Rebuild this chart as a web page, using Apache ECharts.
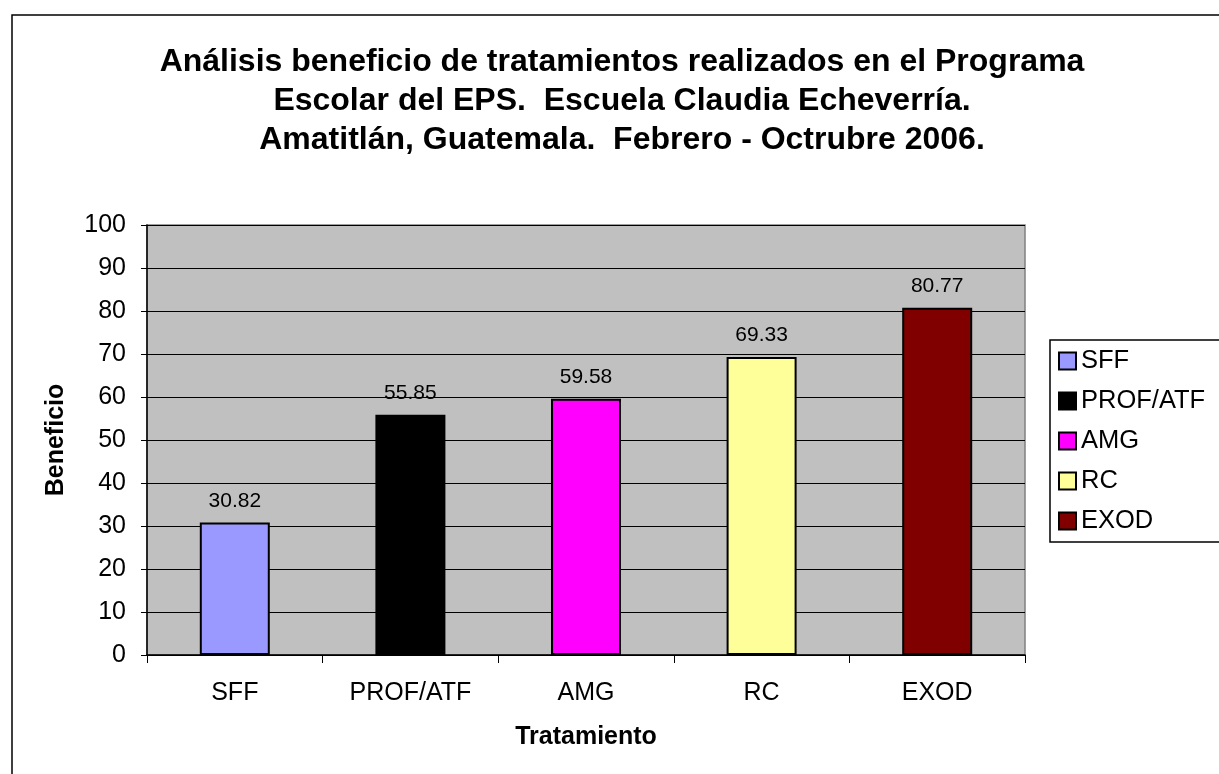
<!DOCTYPE html>
<html>
<head>
<meta charset="utf-8">
<script src="https://cdn.jsdelivr.net/npm/echarts@6/dist/echarts.min.js"></script>
<style>html,body{margin:0;padding:0;background:#fff}#c{width:1219px;height:774px}</style>
</head>
<body>
<div id="c"></div>
<script>
var categories = ['SFF', 'PROF/ATF', 'AMG', 'RC', 'EXOD'];
var values = [30.82, 55.85, 59.58, 69.33, 80.77];
var colors = ['#9999FF', '#000000', '#FF00FF', '#FFFF99', '#800000'];
var titleText = 'Análisis beneficio de tratamientos realizados en el Programa\nEscolar del EPS.  Escuela Claudia Echeverría.\nAmatitlán, Guatemala.  Febrero - Octrubre 2006.';
var yName = 'Beneficio';
var xName = 'Tratamiento';

var FONT = '"Liberation Sans", Arial, sans-serif';
var chart = echarts.init(document.getElementById('c'), null, {renderer: 'canvas'});

var series = categories.map(function (c, i) {
  return {
    name: c,
    type: 'bar',
    stack: 'all',
    barWidth: 70,
    data: categories.map(function (_, j) { return j === i ? values[i] : '-'; }),
    itemStyle: {color: colors[i], borderColor: '#000', borderWidth: 2},
    label: {
      show: true, position: 'top', distance: 11,
      color: '#000', fontFamily: FONT, fontSize: 21,
      formatter: function (p) { return p.value.toFixed(2); }
    },
    emphasis: {disabled: true}
  };
});

chart.setOption({
  animation: false,
  backgroundColor: '#fff',
  graphic: [{
    type: 'rect', shape: {x: 12, y: 15, width: 1400, height: 900},
    style: {fill: 'none', stroke: '#000', lineWidth: 1.5}, z: -10
  }],
  title: {
    text: titleText, left: 617, top: 38, textAlign: 'center',
    textStyle: {fontFamily: FONT, fontSize: 32, fontWeight: 'bold', color: '#000', lineHeight: 38.7}
  },
  legend: {
    orient: 'vertical', left: 1050, top: 340,
    data: categories,
    icon: 'rect', itemWidth: 17, itemHeight: 17, itemGap: 14,
    padding: [8, 40, 8, 8],
    borderColor: '#000', borderWidth: 1.5,
    textStyle: {fontFamily: FONT, fontSize: 25.5, color: '#000', lineHeight: 22},
    selectedMode: false
  },
  grid: {left: 147, right: 194, top: 225, bottom: 119, show: true,
    backgroundColor: '#C0C0C0', borderColor: '#808080', borderWidth: 1.5},
  xAxis: {
    type: 'category', data: categories,
    name: xName, nameLocation: 'middle', nameGap: 70,
    nameTextStyle: {fontFamily: FONT, fontSize: 25, fontWeight: 'bold', color: '#000'},
    axisLine: {lineStyle: {color: '#000', width: 1.5}},
    axisTick: {show: true, length: 8, lineStyle: {color: '#000'}},
    axisLabel: {fontFamily: FONT, fontSize: 25, color: '#000', margin: 26}
  },
  yAxis: {
    type: 'value', min: 0, max: 100, interval: 10,
    name: yName, nameLocation: 'middle', nameGap: 78,
    nameTextStyle: {fontFamily: FONT, fontSize: 25, fontWeight: 'bold', color: '#000'},
    axisLine: {show: true, lineStyle: {color: '#000', width: 1.5}},
    axisTick: {show: true, length: 6, lineStyle: {color: '#000'}},
    axisLabel: {fontFamily: FONT, fontSize: 25, color: '#000', margin: 21},
    splitLine: {show: true, lineStyle: {color: '#000', width: 1}}
  },
  series: series
});
</script>
</body>
</html>
